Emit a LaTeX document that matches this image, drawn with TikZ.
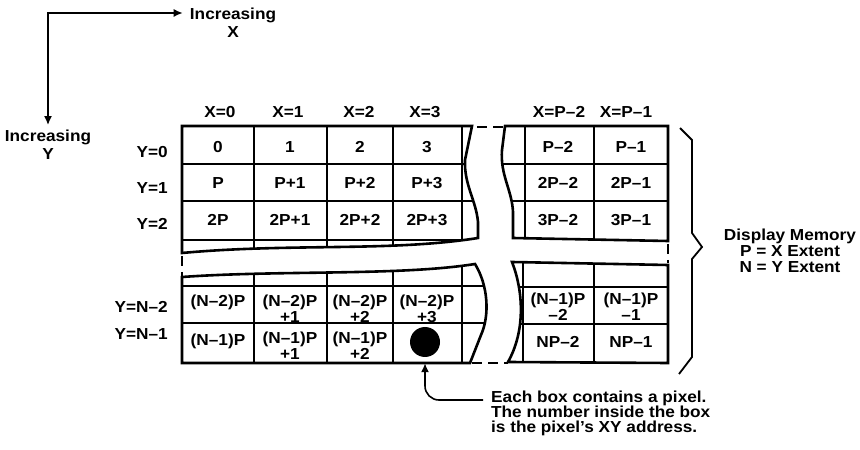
\documentclass[tikz,border=0pt]{standalone}
\usepackage{fontspec}
\setmainfont[FakeStretch=1.08]{Liberation Sans}
\usepackage{tikz}
\usetikzlibrary{arrows.meta}
\tikzstyle{txt} = [inner sep=0pt, font=\fontsize{16}{16}\selectfont\bfseries]
\tikzstyle{cell} = [txt, align=center]
\tikzstyle{frame} = [line width=2.6bp]
\tikzstyle{grid} = [line width=1.1bp]
\tikzstyle{gap} = [line width=1.3bp, dash pattern=on 10bp off 6bp]
\tikzstyle{arrow} = [line width=1.6bp,->,>={Latex[length=9bp,width=8bp]}]
\newcommand{\tlblock}{(472,126) -- (182,126) -- (182,253) .. controls (290,243) and (390,252) .. (478,238) -- (478,222) .. controls (476,200) and (464,185) .. (465,160) -- cycle}
\newcommand{\trblock}{(505,126) -- (668,126) -- (668,241) -- (513,238) -- (513,212) .. controls (512,190) and (500,175) .. (502,150) -- cycle}
\newcommand{\blblock}{(182,277) .. controls (280,270) and (400,276) .. (475,264) .. controls (488,285) and (490,315) .. (481,335) -- (470,363) -- (182,363) -- cycle}
\newcommand{\brblock}{(512,262) -- (668,265) -- (668,363) -- (508,362) .. controls (526,330) and (523,290) .. (512,262) -- cycle}

\begin{document}
\begin{tikzpicture}[x=1bp, y=-1bp]
	\useasboundingbox (0,0) rectangle (860,450);

	\begin{scope}
		\clip \tlblock;
		\draw [grid] (254,120) -- (254,260) (327,120) -- (327,260) (393,120) -- (393,260) (462,120) -- (462,260);
		\draw [grid] (180,164) -- (490,164) (180,201) -- (490,201) (180,240) -- (490,240);
	\end{scope}
	\begin{scope}
		\clip \trblock;
		\draw [grid] (525,120) -- (525,250) (594,120) -- (594,250);
		\draw [grid] (495,164) -- (670,164) (495,201) -- (670,201);
	\end{scope}
	\begin{scope}
		\clip \blblock;
		\draw [grid] (254,255) -- (254,370) (327,255) -- (327,370) (393,255) -- (393,370) (462,255) -- (462,370);
		\draw [grid] (180,286) -- (490,286) (180,323) -- (490,323);
	\end{scope}
	\begin{scope}
		\clip \brblock;
		\draw [grid] (523,255) -- (523,370) (594,255) -- (594,370);
		\draw [grid] (500,287) -- (670,287) (500,324) -- (670,324);
	\end{scope}
	\draw [frame] \tlblock;
	\draw [frame] \trblock;
	\draw [frame] \blblock;
	\draw [frame] \brblock;
	\draw [gap] (477,127) -- (503,127);
	\draw [gap] (472,363) -- (508,363);
	\draw [gap] (182,256) -- (182,276);
	\draw [gap] (668,244) -- (668,263);
	\draw [line width=1.8bp] (680,128) -- (692,140) -- (692,233) -- (702,247) -- (692,259) -- (692,357) -- (679,374);

	\node (hx0) [txt] at (220,112) {X=0};
	\node (hx1) [txt] at (288,112) {X=1};
	\node (hx2) [txt] at (359,112) {X=2};
	\node (hx3) [txt] at (425,112) {X=3};
	\node (hxp2) [txt] at (559,112) {X=P--2};
	\node (hxp1) [txt] at (626,112) {X=P--1};

	\node (hy0) [txt, anchor=east] at (168,152) {Y=0};
	\node (hy1) [txt, anchor=east] at (168,188) {Y=1};
	\node (hy2) [txt, anchor=east] at (168,224) {Y=2};
	\node (hyn2) [txt, anchor=east] at (168,307) {Y=N--2};
	\node (hyn1) [txt, anchor=east] at (168,334) {Y=N--1};

	\node (c00) [cell] at (218,147) {0};
	\node (c01) [cell] at (290,147) {1};
	\node (c02) [cell] at (360,147) {2};
	\node (c03) [cell] at (427,147) {3};
	\node (c10) [cell] at (218,183) {P};
	\node (c11) [cell] at (290,183) {P+1};
	\node (c12) [cell] at (360,183) {P+2};
	\node (c13) [cell] at (427,183) {P+3};
	\node (c20) [cell] at (218,220) {2P};
	\node (c21) [cell] at (290,220) {2P+1};
	\node (c22) [cell] at (360,220) {2P+2};
	\node (c23) [cell] at (427,220) {2P+3};
	\node (c0p2) [cell] at (558,147) {P--2};
	\node (c0p1) [cell] at (631,147) {P--1};
	\node (c1p2) [cell] at (558,183) {2P--2};
	\node (c1p1) [cell] at (631,183) {2P--1};
	\node (c2p2) [cell] at (558,220) {3P--2};
	\node (c2p1) [cell] at (631,220) {3P--1};

	\node (cn20) [cell] at (218,302) {(N--2)P};
	\node (cn21) [cell] at (290,309) {(N--2)P\\+1};
	\node (cn22) [cell] at (360,309) {(N--2)P\\+2};
	\node (cn23) [cell] at (427,309) {(N--2)P\\+3};
	\node (cn10) [cell] at (218,341) {(N--1)P};
	\node (cn11) [cell] at (290,346) {(N--1)P\\+1};
	\node (cn12) [cell] at (360,346) {(N--1)P\\+2};
	\node (pix) [circle, fill=black, inner sep=0pt, minimum size=30bp] at (425,342) {};
	\node (cn2p2) [cell] at (558,307) {(N--1)P\\--2};
	\node (cn2p1) [cell] at (631,307) {(N--1)P\\--1};
	\node (cn1p2) [cell] at (558,342) {NP--2};
	\node (cn1p1) [cell] at (631,342) {NP--1};

	\node (mem) [cell] at (790,251) {Display Memory\\P = X Extent\\N = Y Extent};
	\node (incx) [cell, font=\fontsize{16}{18}\selectfont\bfseries] at (233,23) {Increasing\\X};
	\node (incy) [cell, font=\fontsize{16}{18}\selectfont\bfseries] at (48,145) {Increasing\\Y};
	\node (note) [txt, align=left, anchor=north west, font=\fontsize{16}{15}\selectfont\bfseries] at (491,391) {Each box contains a pixel.\\The number inside the box\\is the pixel's XY address.};

	\coordinate (corner) at (48,13);
	\draw [arrow, <->, shorten <=7bp, shorten >=5bp] (corner -| incx.west) -- (corner) -- (corner |- incy.north);
	\draw [arrow, rounded corners=14bp, shorten >=6bp] ([shift={(-8bp,-9bp)}]note.north west) -| (pix);
\end{tikzpicture}
\end{document}
